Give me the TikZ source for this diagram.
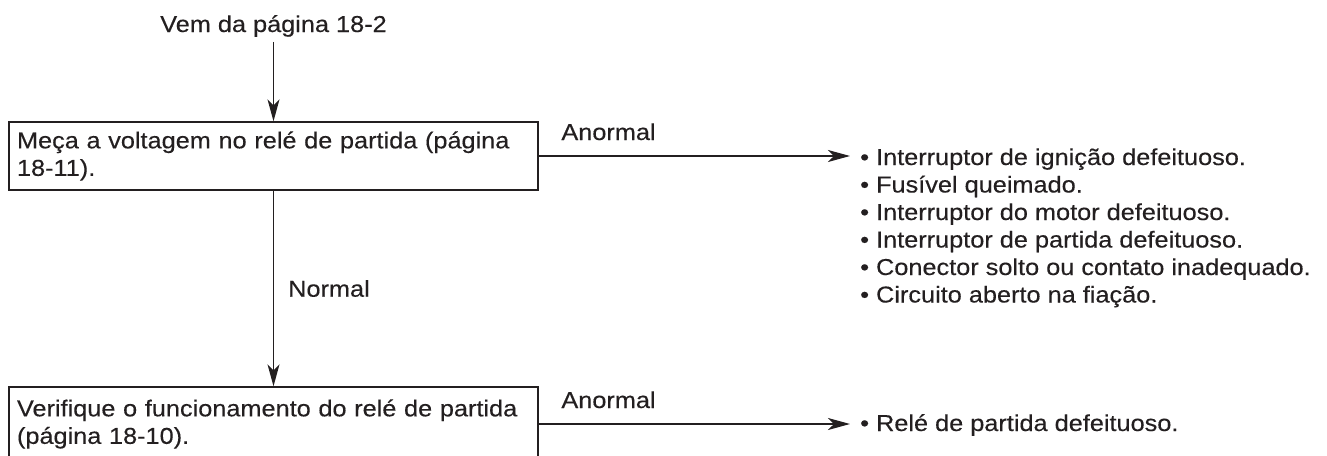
\documentclass[tikz,border=0pt]{standalone}
\usepackage{fontspec}
\setmainfont{Liberation Sans}[FakeStretch=1.1, FakeBold=0.3]
\usetikzlibrary{arrows.meta}
\usetikzlibrary{positioning}
\definecolor{ink}{HTML}{231F20}
\tikzstyle{check} = [rectangle, draw=ink, line width=1.4pt, text width=513pt, align=left, inner xsep=8pt, inner ysep=0pt, minimum height=68pt]
\tikzstyle{tag} = [inner sep=0pt, text=ink]
\tikzstyle{flow} = [draw=ink, line width=1.4pt, -{Stealth[length=22pt,width=12pt,inset=6pt]}]

\begin{document}
\begin{tikzpicture}[x=1pt, y=-1pt, font=\fontsize{23}{27.5}\selectfont, text=ink]
\useasboundingbox (0,0) rectangle (1327,455);

\node (chk1) [check] at (273.5,156) {Meça a voltagem no relé de partida (página\\18-11).};
\node (chk2) [check, minimum height=74pt] at (273.5,424) {Verifique o funcionamento do relé de partida\\(página 18-10).};
\node (from) [tag, anchor=base] at (273.5,32) {Vem da página 18-2};

\node (res1) [tag, anchor=base west] at (860,165) {
\begin{tabular}[t]{@{}l@{}}
  • Interruptor de ignição defeituoso.\\
  • Fusível queimado.\\
  • Interruptor do motor defeituoso.\\
  • Interruptor de partida defeituoso.\\
  • Conector solto ou contato inadequado.\\
  • Circuito aberto na fiação.
\end{tabular}};
\node (res2) [tag, anchor=base west] at (860,431) {• Relé de partida defeituoso.};

\draw[flow, shorten <=5pt] (from.south -| chk1.north) -- (chk1.north);
\draw[flow] (chk1) -- node[tag, right=14pt] {Normal} (chk2);
\draw[flow] (chk1.east) -- node[tag, pos=0, anchor=base west, xshift=22pt, yshift=16pt] {Anormal} ([xshift=-10pt]chk1.east -| res1.west);
\draw[flow] (chk2.east) -- node[tag, pos=0, anchor=base west, xshift=22pt, yshift=16pt] {Anormal} ([xshift=-10pt]chk2.east -| res2.west);
\end{tikzpicture}
\end{document}
